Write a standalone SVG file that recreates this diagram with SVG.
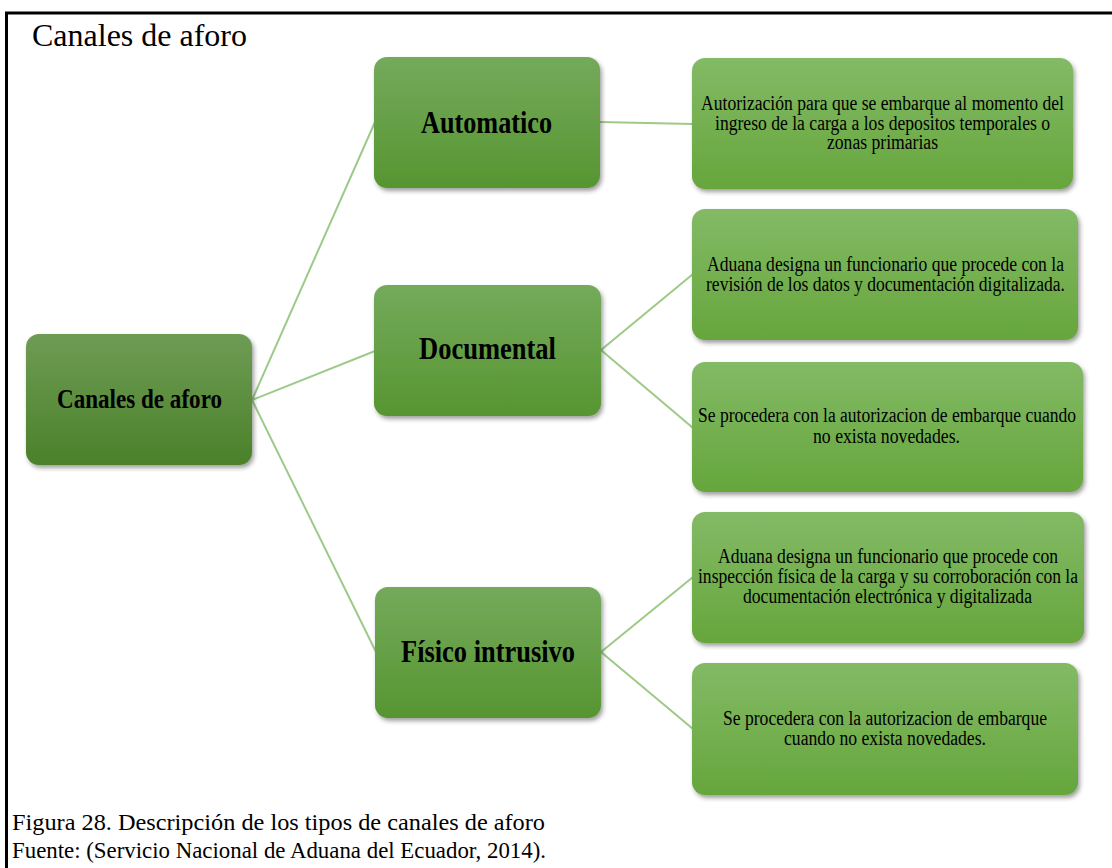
<svg xmlns="http://www.w3.org/2000/svg" width="1112" height="868" viewBox="0 0 1112 868">
  <defs>
    <linearGradient id="gRoot" x1="0" y1="0" x2="0" y2="1">
      <stop offset="0" stop-color="#6e9c55"/>
      <stop offset="1" stop-color="#4b8129"/>
    </linearGradient>
    <linearGradient id="gMid" x1="0" y1="0" x2="0" y2="1">
      <stop offset="0" stop-color="#74aa5b"/>
      <stop offset="1" stop-color="#579531"/>
    </linearGradient>
    <linearGradient id="gLeaf" x1="0" y1="0" x2="0" y2="1">
      <stop offset="0" stop-color="#83ba66"/>
      <stop offset="1" stop-color="#66a63c"/>
    </linearGradient>
    <filter id="shadow" x="-10%" y="-10%" width="125%" height="130%">
      <feDropShadow dx="2" dy="3" stdDeviation="2.2" flood-color="#2a2a2a" flood-opacity="0.45"/>
    </filter>
  </defs>
  <style>
    .frame { fill: none; stroke: #000; stroke-width: 3; }
    .title { font-family: "Liberation Serif", "Times New Roman", serif; font-size: 32px; fill: #000; }
    .caption { font-family: "Liberation Serif", "Times New Roman", serif; font-size: 22.5px; fill: #000; }
    .box { filter: url(#shadow); }
    .lbl { font-family: "Liberation Serif", "Times New Roman", serif; font-weight: bold; fill: #000; }
    .txt { font-family: "Liberation Serif", "Times New Roman", serif; font-size: 20.5px; fill: #000; }
    .link { stroke: #9dca88; stroke-width: 2; fill: none; }
  </style>

  <rect width="1112" height="868" fill="#fff"/>
  <rect class="frame" x="6.5" y="13" width="1130" height="900"/>
  <text class="title" x="32" y="46">Canales de aforo</text>

  <g id="connectors">
    <line class="link" x1="252" y1="400" x2="375" y2="122"/>
    <line class="link" x1="252" y1="400" x2="375" y2="351"/>
    <line class="link" x1="252" y1="400" x2="376" y2="652"/>
    <line class="link" x1="600" y1="122" x2="693" y2="124"/>
    <line class="link" x1="601" y1="350" x2="693" y2="274"/>
    <line class="link" x1="601" y1="350" x2="693" y2="428"/>
    <line class="link" x1="601" y1="652" x2="693" y2="577"/>
    <line class="link" x1="601" y1="652" x2="693" y2="729"/>
  </g>

  <g id="root">
    <rect class="box" x="26" y="334" width="226" height="131" rx="13" fill="url(#gRoot)"/>
    <text class="lbl" x="57" y="408" font-size="27" textLength="165" lengthAdjust="spacingAndGlyphs">Canales de aforo</text>
  </g>

  <g id="automatico">
    <rect class="box" x="374" y="57" width="226" height="131" rx="13" fill="url(#gMid)"/>
    <text class="lbl" x="421" y="133" font-size="30.5" textLength="131" lengthAdjust="spacingAndGlyphs">Automatico</text>
  </g>

  <g id="documental">
    <rect class="box" x="374" y="285" width="227" height="131" rx="13" fill="url(#gMid)"/>
    <text class="lbl" x="419" y="359" font-size="30.5" textLength="137" lengthAdjust="spacingAndGlyphs">Documental</text>
  </g>

  <g id="fisico">
    <rect class="box" x="375" y="587" width="226" height="131" rx="13" fill="url(#gMid)"/>
    <text class="lbl" x="401" y="662" font-size="30.5" textLength="174" lengthAdjust="spacingAndGlyphs">Físico intrusivo</text>
  </g>

  <g id="leaf-automatico">
    <rect class="box" x="692" y="58" width="381" height="131" rx="13" fill="url(#gLeaf)"/>
    <text class="txt" x="701" y="110" textLength="363" lengthAdjust="spacingAndGlyphs">Autorización para que se embarque al momento  del</text>
    <text class="txt" x="715" y="130" textLength="335" lengthAdjust="spacingAndGlyphs">ingreso  de la carga a los depositos temporales o</text>
    <text class="txt" x="827" y="149" textLength="111" lengthAdjust="spacingAndGlyphs">zonas primarias</text>
  </g>

  <g id="leaf-documental-1">
    <rect class="box" x="692" y="209" width="386" height="131" rx="13" fill="url(#gLeaf)"/>
    <text class="txt" x="707" y="271" textLength="357" lengthAdjust="spacingAndGlyphs">Aduana designa un funcionario que procede con la</text>
    <text class="txt" x="706" y="291" textLength="359" lengthAdjust="spacingAndGlyphs">revisión de los datos y documentación digitalizada.</text>
  </g>

  <g id="leaf-documental-2">
    <rect class="box" x="692" y="362" width="391" height="130" rx="13" fill="url(#gLeaf)"/>
    <text class="txt" x="698" y="422" textLength="378" lengthAdjust="spacingAndGlyphs">Se procedera con la autorizacion de embarque cuando</text>
    <text class="txt" x="813" y="443" textLength="147" lengthAdjust="spacingAndGlyphs">no exista novedades.</text>
  </g>

  <g id="leaf-fisico-1">
    <rect class="box" x="692" y="512" width="392" height="131" rx="13" fill="url(#gLeaf)"/>
    <text class="txt" x="718" y="563" textLength="340" lengthAdjust="spacingAndGlyphs">Aduana designa un funcionario que procede con</text>
    <text class="txt" x="698" y="583" textLength="380" lengthAdjust="spacingAndGlyphs">inspección física de la carga y su corroboración con la</text>
    <text class="txt" x="743" y="603" textLength="289" lengthAdjust="spacingAndGlyphs">documentación electrónica y digitalizada</text>
  </g>

  <g id="leaf-fisico-2">
    <rect class="box" x="692" y="663" width="386" height="132" rx="13" fill="url(#gLeaf)"/>
    <text class="txt" x="723" y="725" textLength="324" lengthAdjust="spacingAndGlyphs">Se procedera con la autorizacion de embarque</text>
    <text class="txt" x="784" y="745" textLength="202" lengthAdjust="spacingAndGlyphs">cuando no exista novedades.</text>
  </g>

  <text class="caption" x="12" y="830" textLength="533" lengthAdjust="spacingAndGlyphs">Figura 28. Descripción de los tipos de canales de aforo</text>
  <text class="caption" x="12" y="858" textLength="534" lengthAdjust="spacingAndGlyphs">Fuente: (Servicio Nacional de Aduana del Ecuador, 2014).</text>
</svg>
